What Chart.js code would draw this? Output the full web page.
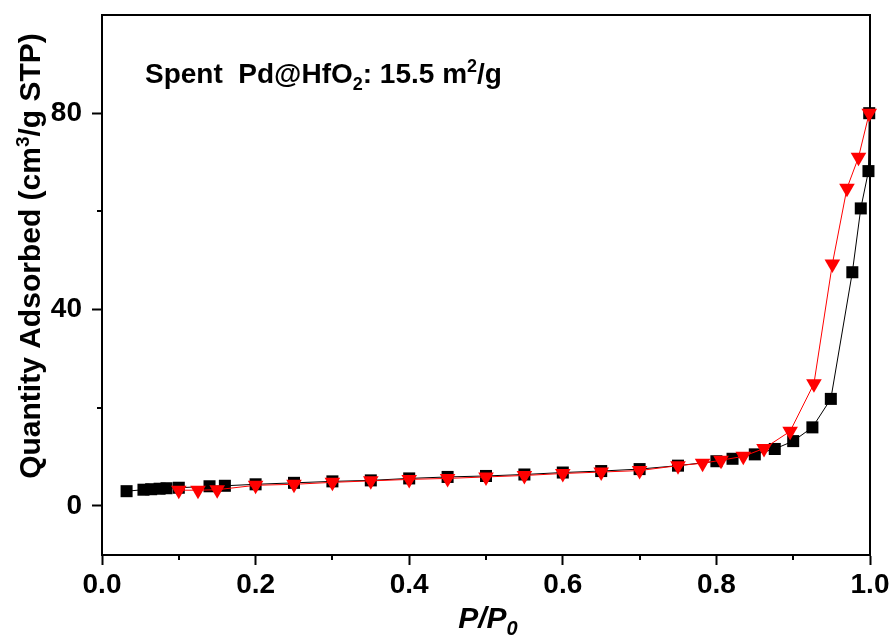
<!DOCTYPE html>
<html>
<head>
<meta charset="utf-8">
<script src="https://cdn.jsdelivr.net/npm/chart.js@4.4.1/dist/chart.umd.min.js"></script>
<style>
  html, body { margin: 0; padding: 0; background: #fff; }
  #wrap { width: 896px; height: 639px; }
</style>
</head>
<body>
<div id="wrap"><canvas id="bet"></canvas></div>
<script>
// adsorption branch (black squares)
const adsP = [0.032, 0.054, 0.064, 0.075, 0.084, 0.10, 0.14, 0.16, 0.20, 0.25, 0.30, 0.35, 0.40, 0.45, 0.50, 0.55, 0.60, 0.65, 0.70, 0.75, 0.80, 0.821, 0.85, 0.876, 0.90, 0.925, 0.949, 0.977, 0.988, 0.998, 0.999]
const adsQ = [3.0, 3.3, 3.4, 3.5, 3.6, 3.7, 4.0, 4.1, 4.4, 4.7, 5.0, 5.2, 5.6, 5.9, 6.1, 6.4, 6.8, 7.1, 7.5, 8.2, 9.1, 9.6, 10.5, 11.6, 13.2, 16.0, 21.8, 47.6, 60.6, 68.2, 80.0]

// desorption branch (red triangles)
const desP = [0.999, 0.985, 0.970, 0.951, 0.927, 0.896, 0.862, 0.835, 0.806, 0.782, 0.75, 0.70, 0.65, 0.60, 0.55, 0.50, 0.45, 0.40, 0.35, 0.30, 0.25, 0.20, 0.15, 0.125, 0.10]
const desQ = [80.0, 71.0, 64.7, 49.3, 24.9, 15.2, 11.7, 10.1, 9.3, 8.7, 8.2, 7.2, 6.9, 6.6, 6.2, 5.9, 5.6, 5.4, 5.1, 4.8, 4.4, 4.2, 3.3, 3.2, 3.2]

// ticks
const xTicks = [0, 0.2, 0.4, 0.6, 0.8, 1.0]
const xMinor = [0.1, 0.3, 0.5, 0.7, 0.9]
const yTicks = [0, 40, 80]
const yMinor = [20, 60]

const FONT = '"Liberation Sans", Arial, sans-serif'

// draw text made of pieces (normal / sub / sup), x is the left edge
function drawPieces(ctx, pieces, x, y, style) {
  let cx = x
  pieces.forEach(p => {
    ctx.font = style + ' ' + p.size + 'px ' + FONT
    ctx.fillText(p.t, cx, y + (p.dy || 0))
    cx += ctx.measureText(p.t).width
  })
}
function piecesWidth(ctx, pieces, style) {
  let w = 0
  pieces.forEach(p => {
    ctx.font = style + ' ' + p.size + 'px ' + FONT
    w += ctx.measureText(p.t).width
  })
  return w
}

const boxPlugin = {
  id: 'box',
  beforeDatasetsDraw(chart) {
    const { ctx, chartArea: a, scales } = chart
    ctx.save()
    ctx.strokeStyle = '#000'
    ctx.lineWidth = 2
    ctx.strokeRect(a.left, a.top, a.right - a.left, a.bottom - a.top)
    // minor ticks
    ctx.beginPath()
    xMinor.forEach(v => {
      const px = Math.round(scales.x.getPixelForValue(v))
      ctx.moveTo(px, a.bottom)
      ctx.lineTo(px, a.bottom + 5)
    })
    yMinor.forEach(v => {
      const py = Math.round(scales.y.getPixelForValue(v))
      ctx.moveTo(a.left, py)
      ctx.lineTo(a.left - 5, py)
    })
    ctx.stroke()
    ctx.restore()
  },
  afterDraw(chart) {
    const { ctx, chartArea: a } = chart
    ctx.save()
    ctx.fillStyle = '#000'
    ctx.textBaseline = 'alphabetic'
    ctx.textAlign = 'left'

    // sample label inside the plot
    const note = [
      { t: 'Spent  Pd@HfO', size: 28 },
      { t: '2', size: 18, dy: 7 },
      { t: ': 15.5 m', size: 28 },
      { t: '2', size: 18, dy: -11 },
      { t: '/g', size: 28 }
    ]
    drawPieces(ctx, note, 145, 83, 'bold')

    // x title
    const xt = [
      { t: 'P/P', size: 30 },
      { t: '0', size: 20, dy: 7 }
    ]
    const xw = piecesWidth(ctx, xt, 'italic bold')
    drawPieces(ctx, xt, (a.left + a.right) / 2 - xw / 2 + 2, 628, 'italic bold')

    // y title (rotated)
    const yt = [
      { t: 'Quantity Adsorbed (cm', size: 30 },
      { t: '3', size: 19, dy: -11 },
      { t: '/g STP)', size: 30 }
    ]
    const yw = piecesWidth(ctx, yt, 'bold')
    ctx.translate(40, 256)
    ctx.rotate(-Math.PI / 2)
    drawPieces(ctx, yt, -yw / 2, 0, 'bold')
    ctx.restore()
  }
}

const ctx = document.getElementById('bet').getContext('2d')

const bet = new Chart(ctx, {
  type: 'scatter',
  data: {
    datasets: [
      {
        label: 'Desorption',
        data: desP.map((p, i) => ({ x: p, y: desQ[i] })),
        showLine: true,
        borderColor: '#ff0000',
        borderWidth: 1,
        backgroundColor: '#ff0000',
        pointStyle: 'triangle',
        rotation: 180,
        pointRadius: 9,
        pointBorderWidth: 0,
        order: 0,
        clip: false
      },
      {
        label: 'Adsorption',
        data: adsP.map((p, i) => ({ x: p, y: adsQ[i] })),
        showLine: true,
        borderColor: '#000',
        borderWidth: 1,
        backgroundColor: '#000',
        pointStyle: 'rect',
        pointRadius: 8.5,
        pointBorderWidth: 0,
        order: 1,
        clip: false
      }
    ]
  },
  options: {
    responsive: true,
    maintainAspectRatio: false,
    animation: false,
    devicePixelRatio: 1,
    layout: { padding: { left: 0, top: 15, right: 26, bottom: 0 } },
    plugins: {
      legend: { display: false },
      tooltip: { enabled: false }
    },
    scales: {
      x: {
        type: 'linear',
        min: 0,
        max: 1,
        afterBuildTicks: s => { s.ticks = xTicks.map(v => ({ value: v })) },
        afterFit: s => { s.height = 84; s.paddingLeft = 0; s.paddingRight = 0 },
        grid: { drawOnChartArea: false, drawTicks: true, tickLength: 10, tickWidth: 2, tickColor: '#000' },
        border: { display: true, width: 2, color: '#000' },
        ticks: {
          color: '#000',
          padding: 3,
          maxRotation: 0,
          font: { family: FONT, size: 28, weight: 'bold' },
          callback: v => v.toFixed(1)
        }
      },
      y: {
        type: 'linear',
        min: -10,
        max: 100,
        afterBuildTicks: s => { s.ticks = yTicks.map(v => ({ value: v })) },
        afterFit: s => { s.width = 102; s.paddingTop = 0; s.paddingBottom = 0 },
        grid: { drawOnChartArea: false, drawTicks: true, tickLength: 10, tickWidth: 2, tickColor: '#000' },
        border: { display: true, width: 2, color: '#000' },
        ticks: {
          color: '#000',
          padding: 10,
          font: { family: FONT, size: 28, weight: 'bold' },
          callback: v => String(v)
        }
      }
    }
  },
  plugins: [boxPlugin]
})
</script>
</body>
</html>
